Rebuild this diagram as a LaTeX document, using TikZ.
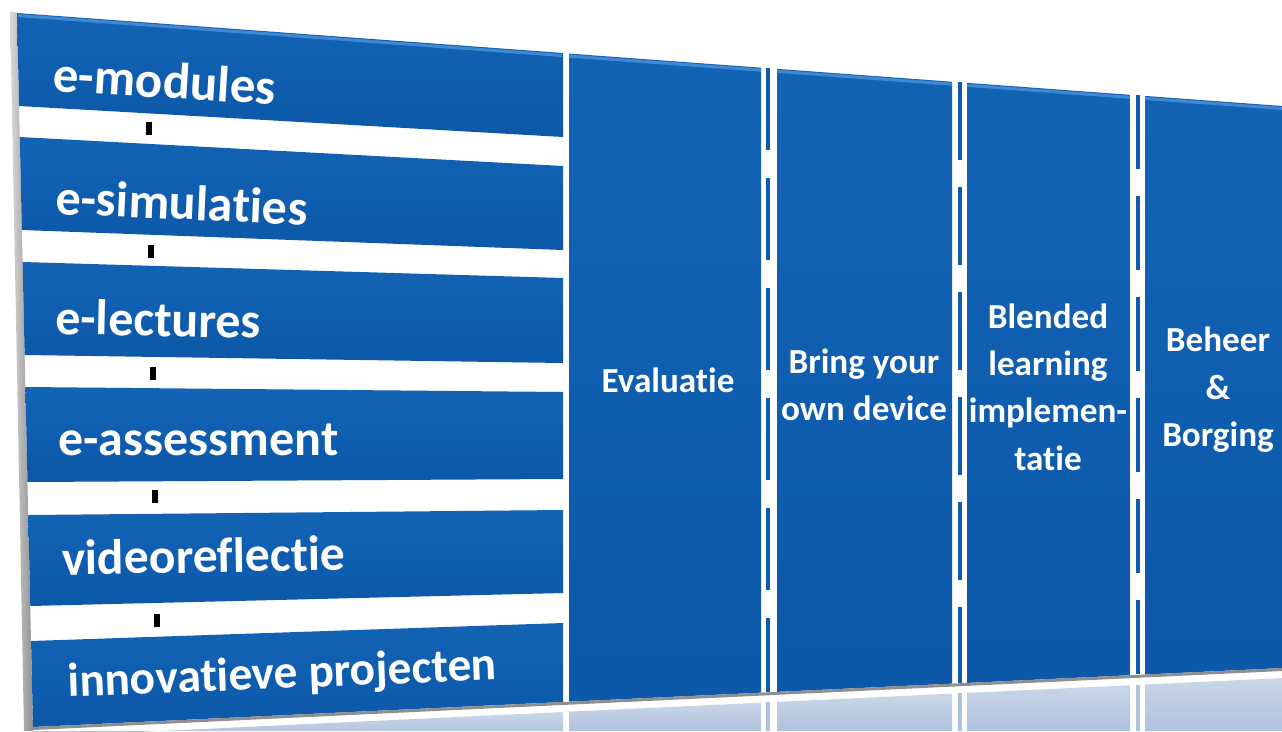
\documentclass[tikz,border=0pt]{standalone}
\usepackage{fontspec}
\setmainfont{Carlito}[Ligatures={NoCommon,NoContextual}]
\usetikzlibrary{calc}

\definecolor{bluetop}{HTML}{1363B5}
\definecolor{bluebot}{HTML}{0C58A9}
\definecolor{bluelight}{HTML}{3F88D2}
\definecolor{bluemid}{HTML}{0E5CAE}
\definecolor{mirrortop}{HTML}{C9D6E8}
\definecolor{mirrorbot}{HTML}{AEC2DC}
\definecolor{rimgray}{HTML}{8F8F8F}

\begin{document}
\begin{tikzpicture}[x=0.02cm, y=-0.02cm,
    panel/.style={top color=bluetop, bottom color=bluebot},
    bevel/.style={draw=bluelight, line width=0.06cm},
    sepline/.style={draw=bluemid, line width=0.08cm},
    mirror/.style={top color=mirrortop, bottom color=mirrorbot},
    rowtext/.style={text=white, font=\fontsize{#1}{30}\selectfont\bfseries, anchor=base west, inner sep=0pt},
    coltext/.style={text=white, font=\fontsize{20}{27}\selectfont\bfseries, align=center, inner sep=0pt}]

	\useasboundingbox (0,0) rectangle (1282,731);
	\clip (0,0) rectangle (1282,731);

	% gray rim on the left
	\shade[left color=gray!30, right color=rimgray] (10,11) -- (17,13) -- (33,731) -- (24,731) -- cycle;

	% rows on the left
	\foreach \tl/\tr/\bl/\br in {13/53/106/137, 137/166/230/250, 262/278/355/363, 387/392/482/479, 515/510/606/593, 641/623/727/702} {
		\path[panel] ({17+(\tl-13)*0.0224},\tl) -- (563,\tr) -- (563,\br) -- ({17+(\bl-13)*0.0224},\bl) -- cycle;
	}
	\draw[bevel] (18,15.5) -- (562,55.5);

	% small marks between the rows
	\foreach \mx/\my in {149/122, 151/245, 153/367, 155/490, 157/614} {
		\fill[black] (\mx-3,\my) rectangle (\mx+3,\my+13);
	}

	% reflection under the rows
	\path[mirror] (33,737) -- (563,712) -- (563,731) -- (33,731) -- cycle;

	% columns, with their reflection
	\foreach \xa/\xb in {569/761, 777/952, 967/1130, 1145/1282} {
		\path[panel] (\xa,{13+(\xa-17)*0.0735}) -- (\xb,{13+(\xb-17)*0.0735}) -- (\xb,{727-(\xb-33)*0.0472}) -- (\xa,{727-(\xa-33)*0.0472}) -- cycle;
		\draw[bevel] (\xa,{15.5+(\xa-17)*0.0735}) -- (\xb,{15.5+(\xb-17)*0.0735});
		\path[mirror] (\xa,{737-(\xa-33)*0.0472}) -- (\xb,{737-(\xb-33)*0.0472}) -- (\xb,731) -- (\xa,731) -- cycle;
	}

	% dashed separators
	\foreach \xs/\on/\off in {768/1.64/0.56, 959.5/1.56/0.54, 1138/1.48/0.54} {
		\draw[sepline, dash pattern=on \on cm off \off cm] (\xs,{13+(\xs-17)*0.0735}) -- (\xs,{727-(\xs-33)*0.0472});
		\draw[draw=mirrorbot, line width=0.08cm] (\xs,{737-(\xs-33)*0.0472}) -- (\xs,731);
	}

	% gray line at the bottom
	\draw[draw=rimgray, line width=0.06cm] (33,728.5) -- (1282,669.5);

	% labels of the rows
	\foreach \name/\lx/\ly/\rot/\fs/\txt in {modules/52/91/-3.5/29/e-modules, simulaties/55/214/-2.5/28.5/e-simulaties, lectures/55/334/-1.2/28.5/e-lectures, assessment/58/455/0/28.5/e-assessment, videoreflectie/62/575/1/28.2/videoreflectie, projecten/68/697/2.3/27/innovatieve projecten} {
		\node[rowtext=\fs, rotate=\rot] (\name) at (\lx,\ly) {\txt};
	}

	% labels of the columns
	\foreach \name/\cx/\cy/\txt in {evaluatie/668/380/Evaluatie, byod/864/385/{Bring your\\own device}, blended/1048/387/{Blended\\learning\\implemen-\\tatie}, borging/1218/390/{Beheer\\\&\\Borging}} {
		\node[coltext] (\name) at (\cx,\cy) {\txt};
	}

\end{tikzpicture}
\end{document}
